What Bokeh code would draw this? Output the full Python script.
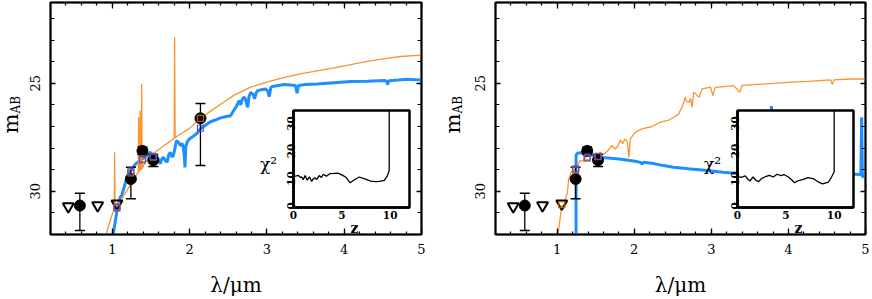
import math
from bokeh.plotting import figure
from bokeh.layouts import row, column
from bokeh.models import Range1d, FixedTicker, LinearAxis, CustomJSTickFormatter, Label
from bokeh.embed import file_html
from bokeh.resources import INLINE

# ---------------- data ----------------
OBS_LAM_L = [0.58, 1.24, 1.39, 1.53, 2.14]
OBS_MAG_L = [30.66, 29.43, 28.13, 28.56, 26.62]
OBS_BRIGHT_L = [30.09, 28.89, 27.95, 28.30, 25.93]
OBS_FAINT_L = [31.82, 30.35, 28.30, 28.85, 28.81]

OBS_LAM_R = [0.58, 1.24, 1.39, 1.53]
OBS_MAG_R = [30.66, 29.43, 28.13, 28.56]
OBS_BRIGHT_R = [30.09, 28.89, 27.95, 28.30]
OBS_FAINT_R = [31.82, 30.35, 28.30, 28.85]

UL_LAM = [0.43, 0.81, 1.06]
UL_MAG = [30.70, 30.65, 30.57]

BSQ_LAM_L = [1.06, 1.24, 1.39, 1.53, 2.14]
BSQ_MAG_L = [30.77, 29.07, 28.55, 28.39, 27.08]
OSQ_LAM_L = [1.06, 1.24, 1.39, 1.53, 2.14]
OSQ_MAG_L = [30.72, 29.15, 28.50, 28.42, 26.62]
BSQ_LAM_R = [1.24, 1.39, 1.53]
BSQ_MAG_R = [28.96, 28.42, 28.40]
OSQ_LAM_R = [1.06, 1.24, 1.39, 1.53]
OSQ_MAG_R = [30.62, 29.02, 28.46, 28.38]

BLUE_LAM_L = [0.99, 1.02, 1.04, 1.06, 1.08, 1.10, 1.12, 1.14, 1.17, 1.19, 1.21, 1.23, 1.25, 1.28,
              1.30, 1.33, 1.36, 1.39, 1.42, 1.45, 1.49, 1.52, 1.55, 1.58, 1.62, 1.64, 1.66, 1.69,
              1.71, 1.73, 1.75, 1.77, 1.79, 1.81, 1.83, 1.86, 1.88, 1.91, 1.93, 1.94, 1.95, 1.97,
              2.00, 2.05, 2.10, 2.14, 2.20, 2.27, 2.33, 2.40, 2.46, 2.53, 2.57, 2.60, 2.64, 2.66,
              2.68, 2.70, 2.72, 2.75, 2.77, 2.79, 2.82, 2.84, 2.86, 2.88, 2.93, 2.98, 3.01, 3.03,
              3.05, 3.07, 3.15, 3.22, 3.30, 3.37, 3.39, 3.41, 3.50, 3.65, 3.87, 4.09, 4.30, 4.52,
              4.55, 4.56, 4.58, 4.70, 4.82, 4.92, 5.00]
BLUE_MAG_L = [32.6, 31.8, 31.36, 30.9, 30.6, 30.28, 30.2, 29.97, 29.6, 29.35, 29.19, 29.1, 29.0, 28.85,
              28.73, 28.65, 28.58, 28.5, 28.42, 28.35, 28.19, 28.3, 28.27, 28.4, 28.73, 28.5, 28.42, 28.6,
              28.65, 28.3, 28.19, 28.4, 28.35, 28.0, 27.65, 27.75, 27.88, 27.8, 28.3, 28.89, 27.95, 27.7,
              27.57, 27.45, 27.3, 27.1, 26.95, 26.78, 26.7, 26.6, 26.55, 26.5, 26.26, 26.1, 25.8, 26.0,
              25.75, 25.65, 25.7, 26.11, 25.6, 25.42, 25.5, 25.72, 25.45, 25.34, 25.3, 25.26, 25.35, 25.62,
              25.2, 25.15, 25.1, 25.06, 25.08, 25.1, 25.46, 25.1, 25.06, 25.03, 24.97, 24.92, 24.9, 24.87,
              24.9, 25.07, 24.88, 24.85, 24.81, 24.83, 24.85]

ORANGE_LAM_L = [0.90, 0.95, 1.00, 1.025, 1.03, 1.035, 1.06, 1.10, 1.15, 1.19, 1.25, 1.30, 1.335, 1.34,
                1.345, 1.355, 1.36, 1.365, 1.375, 1.38, 1.385, 1.42, 1.47, 1.55, 1.64, 1.72, 1.80,
                1.806, 1.812, 1.85, 1.99, 2.14, 2.30, 2.44, 2.57, 2.79, 3.00, 3.20, 3.43, 3.65, 3.87,
                4.10, 4.30, 4.50, 4.73, 5.00]
ORANGE_MAG_L = [32.3, 31.6, 31.05, 30.85, 28.19, 30.8, 30.7, 30.45, 30.2, 29.96, 29.6, 29.3, 29.12, 26.57,
                29.08, 29.03, 26.26, 29.0, 28.96, 25.03, 28.94, 28.7, 28.45, 28.2, 27.96, 27.75, 27.55,
                22.87, 27.53, 27.42, 27.11, 26.62, 26.22, 25.88, 25.56, 25.18, 24.95, 24.75, 24.56, 24.42,
                24.29, 24.12, 23.98, 23.87, 23.76, 23.70]

BLUE_LAM_R = [1.245, 1.245, 1.26, 1.30, 1.36, 1.45, 1.58, 1.70, 1.80, 1.90, 2.01, 2.08, 2.10, 2.12,
              2.23, 2.38, 2.51, 2.70, 2.95, 3.15, 3.34, 3.55, 3.76, 3.78, 3.80, 4.00, 4.30, 4.60,
              4.80, 4.94, 4.95, 4.96, 5.00]
BLUE_MAG_R = [33.0, 28.35, 28.24, 28.22, 28.24, 28.33, 28.43, 28.47, 28.5, 28.55, 28.61, 28.66, 28.73, 28.66,
              28.7, 28.81, 28.89, 28.96, 29.04, 29.12, 29.18, 29.18, 29.19, 26.05, 29.19, 29.2, 29.2, 29.2,
              29.2, 29.22, 26.57, 29.35, 29.22]

ORANGE_LAM_R = [1.00, 1.04, 1.06, 1.08, 1.10, 1.13, 1.15, 1.18, 1.21, 1.26, 1.30, 1.34, 1.39, 1.45,
                1.49, 1.52, 1.56, 1.60, 1.65, 1.71, 1.75, 1.79, 1.82, 1.85, 1.88, 1.91, 1.93, 1.95,
                2.01, 2.10, 2.23, 2.34, 2.45, 2.51, 2.57, 2.62, 2.64, 2.66, 2.68, 2.71, 2.73, 2.75,
                2.77, 2.80, 2.84, 2.88, 2.99, 3.02, 3.05, 3.20, 3.29, 3.37, 3.40, 3.60, 3.81, 4.05,
                4.25, 4.55, 4.57, 4.59, 4.81, 5.00]
ORANGE_MAG_R = [32.3, 31.2, 30.66, 30.7, 30.43, 30.12, 29.43, 29.12, 29.04, 28.81, 28.58, 28.6, 28.27, 28.24,
                28.35, 28.43, 28.19, 28.3, 28.15, 27.88, 28.04, 27.9, 27.62, 27.8, 27.57, 27.7, 28.43, 27.57,
                27.27, 27.11, 27.0, 26.8, 26.7, 26.57, 26.45, 26.11, 25.9, 25.65, 25.85, 25.88, 25.7, 26.11,
                25.42, 25.5, 25.65, 25.26, 25.18, 25.57, 25.19, 25.14, 25.11, 25.42, 25.1, 25.05, 25.0, 24.95,
                24.91, 24.84, 25.06, 24.84, 24.8, 24.8]

Z_L = [0, 0.3, 0.5, 0.7, 0.85, 1.0, 1.2, 1.43, 1.64, 1.88, 2.05, 2.25, 2.4, 2.66, 2.9, 3.07, 3.4, 3.75,
       4.2, 4.6, 5.1, 5.45, 5.86, 6.3, 6.8, 7.3, 8.0, 8.5, 8.87, 9.4, 9.73, 9.9, 9.9]
CHI_L = [10.7, 10.9, 11.1, 10.4, 10.5, 9.5, 11.0, 9.3, 10.6, 8.9, 9.8, 10.2, 9.6, 11.0, 10.3, 11.5, 10.8, 11.7,
         11.8, 11.9, 11.1, 10.3, 8.4, 9.5, 10.5, 9.9, 9.0, 8.8, 8.9, 9.3, 11.1, 12.9, 40]
Z_R = [0, 0.4, 0.8, 1.1, 1.3, 1.6, 1.9, 2.2, 2.5, 2.9, 3.3, 3.7, 4.1, 4.5, 4.8, 5.3, 5.6, 5.9, 6.3, 6.8,
       7.3, 7.9, 8.4, 8.8, 9.4, 9.7, 10.0, 10.0]
CHI_R = [10.7, 10.4, 10.9, 9.6, 9.1, 10.5, 9.3, 8.8, 10.0, 10.6, 11.1, 10.5, 11.5, 11.0, 11.4, 10.4, 9.5, 8.4,
         9.2, 9.6, 10.3, 9.8, 8.6, 8.0, 8.6, 10.3, 12.3, 40]

X_MAJOR = [1, 2, 3, 4, 5]
X_MINOR = [round(0.2 * i, 1) for i in range(1, 26)]
Y_MAJOR = [25, 30]
Y_MINOR = list(range(22, 33))
Z_TICKS = [0, 5, 10]
CHI_TICKS = [0, 10, 20, 30]

# ---------------- style / layout ----------------
BLUE = "#1e8fff"
ORANGE = "#fb9230"
BSQ = "#5b4fd6"
OSQ = "#b8620e"
SERIF = "DejaVu Serif"
PAGE_W = 872
PAGE_H = 299
PANEL_W = 436
TOP_B = 2
FRAME_H = 232
PX_PER_MAG = 21.6
INSET_TOP = 108         # page y of inset canvas top (frame top = +2)
INSET_W = 116
INSET_H = 97
INSET_BB = 24
COLUMN_H = INSET_TOP + 2 + INSET_H + INSET_BB   # height the plot columns occupy in the flow


def blank():
    return CustomJSTickFormatter(code="return ''")


def tick_style(ax, major_in, minor_in):
    ax.major_tick_in = major_in
    ax.major_tick_out = 0
    ax.minor_tick_in = minor_in
    ax.minor_tick_out = 0
    ax.major_tick_line_width = 1.3
    ax.minor_tick_line_width = 1.2
    ax.axis_line_width = 1.5
    ax.major_label_text_font = SERIF
    ax.major_label_text_font_size = "13px"
    ax.major_label_text_color = "black"


def make_main(blam, bmag, olam, omag, plam, pmag, plo, phi,
              bsl, bsm, osl, osm, bl, br):
    p = figure(width=PANEL_W, height=PAGE_H,
               x_range=Range1d(0.2, 5.0),
               y_range=Range1d(32.0, 32.0 - FRAME_H / PX_PER_MAG),
               output_backend="svg", toolbar_location=None,
               min_border_left=bl, min_border_right=br, min_border_top=TOP_B,
               min_border_bottom=PAGE_H - TOP_B - FRAME_H,
               outline_line_color="black", outline_line_width=2,
               background_fill_color="white", border_fill_color=None)
    p.xgrid.visible = False
    p.ygrid.visible = False

    xt = FixedTicker(ticks=X_MAJOR, minor_ticks=X_MINOR)
    yt = FixedTicker(ticks=Y_MAJOR, minor_ticks=Y_MINOR)
    p.xaxis.ticker = xt
    p.yaxis.ticker = yt
    tick_style(p.xaxis[0], 6, 3)
    tick_style(p.yaxis[0], 5, 4)
    p.xaxis.major_label_standoff = 9
    p.yaxis.major_label_standoff = 10
    p.yaxis.major_label_orientation = "vertical"

    p.xaxis.axis_label = "λ/μm"
    p.xaxis.axis_label_text_font = SERIF
    p.xaxis.axis_label_text_font_size = "20px"
    p.xaxis.axis_label_text_font_style = "normal"
    p.xaxis.axis_label_text_color = "black"
    p.xaxis.axis_label_standoff = 16

    top = LinearAxis(ticker=xt, formatter=blank(), major_label_standoff=0)
    tick_style(top, 6, 3)
    top.major_label_text_font_size = "0px"
    right = LinearAxis(ticker=yt, formatter=blank(), major_label_standoff=0)
    tick_style(right, 5, 4)
    right.major_label_text_font_size = "0px"
    p.add_layout(top, "above")
    p.add_layout(right, "right")

    p.line(blam, bmag, line_color=BLUE, line_width=3)
    p.line(olam, omag, line_color=ORANGE, line_width=1.3)

    p.segment(plam, plo, plam, phi, line_color="black", line_width=1.3)
    p.scatter(plam, plo, marker="dash", size=10, line_color="black", line_width=1.5)
    p.scatter(plam, phi, marker="dash", size=10, line_color="black", line_width=1.5)
    p.scatter(plam, pmag, marker="circle", size=11, fill_color="black", line_color="black")
    p.scatter(UL_LAM, UL_MAG, marker="inverted_triangle", size=11, fill_color=None,
              line_color="black", line_width=2)
    p.scatter(osl, osm, marker="square", size=6, fill_color=None, line_color=OSQ, line_width=1.2)
    p.scatter(bsl, bsm, marker="square", size=6, fill_color=None, line_color=BSQ, line_width=1.2)
    return p


def make_inset(z, chi, frame_left_in_col, bl, br):
    # same side borders as the main plot of the column (the column aligns them)
    q = figure(width=bl + INSET_W + br, height=2 + INSET_H + INSET_BB,
               x_range=Range1d(0, 12), y_range=Range1d(-0.6, 34.7),
               output_backend="svg", toolbar_location=None,
               min_border_left=bl, min_border_right=br, min_border_top=2,
               min_border_bottom=INSET_BB,
               outline_line_color="black", outline_line_width=2.5,
               background_fill_color="white", border_fill_color=None)
    q.margin = (INSET_TOP - PAGE_H, 0, 0, frame_left_in_col - bl)
    q.xgrid.visible = False
    q.ygrid.visible = False
    q.xaxis.ticker = FixedTicker(ticks=Z_TICKS, minor_ticks=[])
    q.yaxis.ticker = FixedTicker(ticks=CHI_TICKS, minor_ticks=[])
    for ax in (q.xaxis[0], q.yaxis[0]):
        ax.major_tick_in = 0
        ax.major_tick_out = 0
        ax.axis_line_width = 2.5
        ax.major_label_text_font = SERIF
        ax.major_label_text_font_style = "bold"
        ax.major_label_text_font_size = "10.5px"
        ax.major_label_text_color = "black"
    q.xaxis.major_label_standoff = 3
    q.yaxis.major_label_standoff = -2
    q.yaxis.major_label_orientation = "vertical"
    q.line(z, chi, line_color="black", line_width=1.3)
    return q


# transparent text layer over the whole page for the free-standing axis names
text_layer = figure(width=PAGE_W, height=PAGE_H, x_range=Range1d(0, PAGE_W), y_range=Range1d(0, PAGE_H),
                    output_backend="svg", toolbar_location=None, x_axis_type=None, y_axis_type=None,
                    min_border=0, outline_line_color=None,
                    background_fill_color=None, border_fill_color=None)
text_layer.margin = (-COLUMN_H, 0, 0, 0)
text_layer.grid.visible = False


def put_text(x, y, s, size, angle=0.0, align="left", style="normal", baseline="alphabetic"):
    text_layer.add_layout(Label(x=x, y=PAGE_H - y, text=s, angle=angle, angle_units="rad",
                                text_align=align, text_baseline=baseline,
                                text_font=SERIF, text_font_size=size,
                                text_font_style=style, text_color="black"))


for px, ix in ((0, 293), (442, 737)):
    # rotated m_AB, reading upwards; anchor at the bottom edge of the text box
    put_text(px + 22, 133, "m", "21px", angle=math.pi / 2, baseline="bottom")
    put_text(px + 22, 113, "AB", "12px", angle=math.pi / 2, baseline="bottom")
    put_text(ix - 33.5, 163, "χ²", "17px")
    put_text(ix + 61, 227, "z", "14px", align="center", style="bold")

left = make_main(BLUE_LAM_L, BLUE_MAG_L, ORANGE_LAM_L, ORANGE_MAG_L,
                 OBS_LAM_L, OBS_MAG_L, OBS_BRIGHT_L, OBS_FAINT_L,
                 BSQ_LAM_L, BSQ_MAG_L, OSQ_LAM_L, OSQ_MAG_L, 50, 15)
right_p = make_main(BLUE_LAM_R, BLUE_MAG_R, ORANGE_LAM_R, ORANGE_MAG_R,
                    OBS_LAM_R, OBS_MAG_R, OBS_BRIGHT_R, OBS_FAINT_R,
                    BSQ_LAM_R, BSQ_MAG_R, OSQ_LAM_R, OSQ_MAG_R, 59, 7)
inset_l = make_inset(Z_L, CHI_L, 293, 50, 15)
inset_r = make_inset(Z_R, CHI_R, 737 - PANEL_W, 59, 7)

layout = row(column(left, inset_l), column(right_p, inset_r))
open("out.html", "w").write(file_html([layout, text_layer], INLINE))
